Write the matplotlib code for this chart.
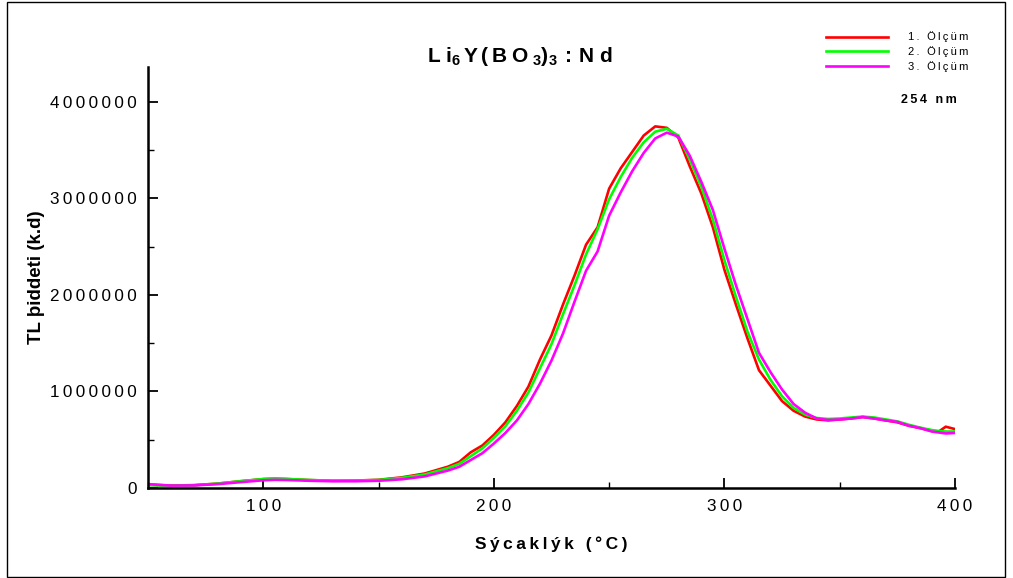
import matplotlib
matplotlib.use("Agg")
import matplotlib.pyplot as plt
from matplotlib.patches import Rectangle
from matplotlib.ticker import MultipleLocator, FuncFormatter

plt.rcParams['font.family'] = ['Liberation Sans', 'DejaVu Sans']
plt.rcParams['mathtext.fontset'] = 'custom'
plt.rcParams['mathtext.rm'] = 'Liberation Sans'
plt.rcParams['mathtext.bf'] = 'Liberation Sans:bold'

# temperature (C) and TL intensity (millions of counts)
temp = [50, 60, 70, 80, 90, 100, 105, 110, 120, 130, 140, 150, 160, 170, 180,
        185, 190, 195, 200, 205, 210, 215, 220, 225, 230, 235, 240, 245, 250,
        255, 260, 265, 270, 275, 280, 285, 290, 295, 300, 305, 310, 315, 320,
        325, 330, 335, 340, 345, 350, 355, 360, 365, 370, 375, 380, 385, 390,
        393, 396, 400]

olcum1 = [0.035, 0.025, 0.03, 0.045, 0.07, 0.092, 0.097, 0.093, 0.082, 0.075,
          0.077, 0.085, 0.11, 0.15, 0.22, 0.27, 0.37, 0.44, 0.55, 0.68, 0.85,
          1.05, 1.33, 1.58, 1.90, 2.20, 2.52, 2.70, 3.10, 3.31, 3.48, 3.65,
          3.745, 3.73, 3.63, 3.33, 3.05, 2.70, 2.26, 1.90, 1.55, 1.22, 1.06,
          0.90, 0.80, 0.74, 0.71, 0.70, 0.71, 0.72, 0.735, 0.72, 0.70, 0.68,
          0.645, 0.62, 0.59, 0.585, 0.635, 0.61]

olcum2 = [0.03, 0.022, 0.028, 0.045, 0.07, 0.093, 0.098, 0.094, 0.083, 0.075,
          0.076, 0.083, 0.105, 0.14, 0.205, 0.25, 0.33, 0.41, 0.52, 0.64, 0.80,
          0.99, 1.24, 1.49, 1.80, 2.10, 2.42, 2.68, 2.99, 3.22, 3.42, 3.58,
          3.69, 3.72, 3.65, 3.40, 3.12, 2.78, 2.36, 1.98, 1.62, 1.33, 1.12,
          0.95, 0.83, 0.76, 0.725, 0.715, 0.72, 0.73, 0.74, 0.73, 0.71, 0.69,
          0.655, 0.625, 0.60, 0.59, 0.585, 0.585]

olcum3 = [0.04, 0.025, 0.027, 0.04, 0.06, 0.08, 0.085, 0.083, 0.075, 0.07,
          0.07, 0.075, 0.09, 0.12, 0.18, 0.22, 0.29, 0.36, 0.46, 0.57, 0.70,
          0.87, 1.08, 1.32, 1.60, 1.93, 2.25, 2.45, 2.82, 3.06, 3.28, 3.47,
          3.62, 3.68, 3.64, 3.44, 3.17, 2.88, 2.48, 2.10, 1.75, 1.40, 1.20,
          1.02, 0.87, 0.78, 0.72, 0.705, 0.71, 0.72, 0.735, 0.72, 0.70, 0.685,
          0.645, 0.62, 0.585, 0.575, 0.565, 0.57]

labels = ["1. Ölçüm", "2. Ölçüm", "3. Ölçüm"]
colors = ["#ff0000", "#00ff00", "#ff00ff"]

TS = "\u2009"  # thin space, the original text is letter spaced


def spaced(s):
    return TS.join(s)


fig = plt.figure(figsize=(10.13, 5.78), dpi=100)
ax = fig.add_axes([0.1461, 0.1557, 0.7966, 0.7284])

for ys, lab, c in zip([olcum1, olcum2, olcum3], labels, colors):
    ax.plot(temp, [v * 1e6 for v in ys], color=c, lw=1.9, label=spaced(lab))

ax.set_xlim(50, 400)
ax.set_ylim(0, 4.36e6)
ax.xaxis.set_major_locator(MultipleLocator(100))
ax.xaxis.set_minor_locator(MultipleLocator(50))
ax.yaxis.set_major_locator(MultipleLocator(1000000))
ax.yaxis.set_minor_locator(MultipleLocator(500000))
ax.xaxis.set_major_formatter(FuncFormatter(lambda v, p: spaced("%d" % v)))
ax.yaxis.set_major_formatter(FuncFormatter(lambda v, p: spaced("%d" % v)))
ax.tick_params(which='major', direction='in', length=7, width=1.3, labelsize=12.3, pad=8)
ax.tick_params(which='minor', direction='in', length=4, width=1.0)
ax.spines['top'].set_visible(False)
ax.spines['right'].set_visible(False)
ax.spines['left'].set_linewidth(1.8)
ax.spines['bottom'].set_linewidth(1.8)

ax.set_xlabel(spaced("Sýcaklýk (°C)"), fontsize=12.5, fontweight='bold', labelpad=16)
ax.set_ylabel("TL þiddeti (k.d)", fontsize=13.5, fontweight='bold', labelpad=4)

fig.text(0.513, 0.903,
         r"$\mathbf{L\;i_6\,Y\,(\,B\;O_{\;3})_3\,:\,N\;d}$",
         fontsize=15, ha='center', va='center')
fig.text(0.917, 0.827, spaced("254 nm"), fontsize=9, fontweight='bold',
         ha='center', va='center')

fig.legend(loc='upper left', bbox_to_anchor=(0.81, 0.955), frameon=False,
           fontsize=8, handlelength=5.6, handletextpad=1.8, labelspacing=0.35,
           borderpad=0)

fig.add_artist(Rectangle((7 / 1013, 1 / 578), 998 / 1013, 575 / 578,
                         transform=fig.transFigure, fill=False, lw=1.0,
                         edgecolor='black'))

fig.savefig("out.png", dpi=100)
